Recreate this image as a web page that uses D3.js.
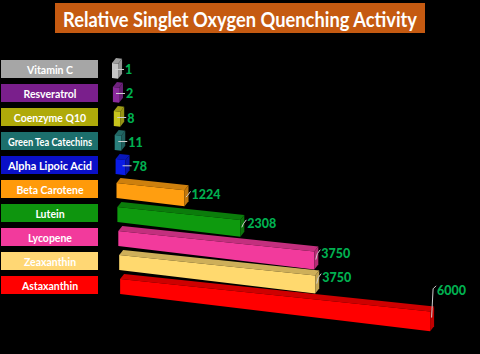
<!DOCTYPE html>
<html><head><meta charset="utf-8">
<script src="https://cdn.jsdelivr.net/npm/d3@7"></script>
<style>html,body{margin:0;padding:0;background:#000;}svg{display:block;}</style>
</head><body>
<svg id="c" width="480" height="354"></svg>
<script>
const categories = ["Vitamin C","Resveratrol","Coenzyme Q10","Green Tea Catechins","Alpha Lipoic Acid","Beta Carotene","Lutein","Lycopene","Zeaxanthin","Astaxanthin"];
const values = [1,2,8,11,78,1224,2308,3750,3750,6000];
const boxColors = ["#A6A6A6","#7A1F8C","#AFAA0A","#1C6F6C","#0A10C8","#FF9A0A","#0E950E","#F23A9C","#FFD774","#FF0000"];
const barColors = ["#C4C4C4","#8A2A9C","#C8C41C","#2A7F7C","#0A1CE6","#FF9E10","#0E9A0E","#F23A9C","#FFD96E","#FF0000"];
const title = "Relative Singlet Oxygen Quenching Activity";

const svg = d3.select("#c");
svg.append("rect").attr("width",480).attr("height",354).attr("fill","#000");

// title
svg.append("rect").attr("x",55).attr("y",3).attr("width",370).attr("height",30).attr("fill","#C55A11");
svg.append("text").attr("x",240).attr("y",19).attr("text-anchor","middle").attr("dominant-baseline","central")
  .attr("fill","#fff").attr("font-family","Lato, 'Open Sans', sans-serif").attr("font-weight","bold")
  .attr("font-size",20).attr("textLength",354).attr("lengthAdjust","spacingAndGlyphs").text(title);

const y = d3.scaleBand().domain(categories).range([60,294]).paddingInner(0.25).paddingOuter(0);
const xs = d3.scaleLinear().domain([0,6000]).range([6,310]);

// label boxes
const boxes = svg.append("g");
categories.forEach((c,i)=>{
  boxes.append("rect").attr("x",1).attr("y",y(c)).attr("width",97).attr("height",y.bandwidth()).attr("fill",boxColors[i]);
  boxes.append("text").attr("x",50).attr("y",y(c)+y.bandwidth()/2+0.5).attr("text-anchor","middle")
    .attr("dominant-baseline","central").attr("fill","#fff").attr("font-family","Lato, sans-serif")
    .attr("font-weight","bold").attr("font-size",10.5)
    .attr("textLength", c.length > 16 ? 84 : null).attr("lengthAdjust","spacingAndGlyphs").text(c);
});

// bars (pseudo 3D)
const a = 0.105, b = 0.12, dx = 4, dy = -5;
const g = svg.append("g");
categories.forEach((c,i)=>{
  const v = values[i];
  const x0 = 112 + 0.9*i;
  const top0 = y(c)+3, bot0 = y(c)+y.bandwidth();
  const len = xs(v);
  const xe = x0 + len;
  const tT = top0 + a*len, tB = bot0 + b*len;
  const col = d3.color(barColors[i]);
  const pts = p => p.map(q=>q.join(",")).join(" ");
  g.append("polygon").attr("points",pts([[x0,top0],[xe,tT],[xe+dx,tT+dy],[x0+dx,top0+dy]])).attr("fill",col.darker(0.6));
  g.append("polygon").attr("points",pts([[x0,top0],[xe,tT],[xe,tB],[x0,bot0]])).attr("fill",col);
  g.append("polygon").attr("points",pts([[xe,tT],[xe+dx,tT+dy],[xe+dx,tB+dy],[xe,tB]])).attr("fill",col.darker(0.8));

  // value label
  const lx = xe + dx + 3;
  let ly = tT + 6 - len*0.025;
  if (i === categories.length-1) ly -= 20;
  let path;
  if (len < 20) {
    path = `M${xe-3},${ly} H${lx-1}`;
  } else if (i === categories.length-1) {
    path = `M${xe+1.5},${tT+6} L${xe+3},${ly-1} L${lx-1},${ly-4}`;
  } else {
    path = `M${xe+1.5},${(tT+tB)/2-1} L${xe+3},${ly+1} L${lx-1},${ly-3}`;
  }
  g.append("path").attr("d",path).attr("fill","none").attr("stroke","#D0D0D0").attr("stroke-width",1);
  g.append("text").attr("x",lx).attr("y",ly+0.5).attr("dominant-baseline","central")
    .attr("fill","#00B050").attr("font-family","Lato, sans-serif").attr("font-weight","900")
    .attr("font-size",12.5).text(d3.format("d")(v));
});
</script>
</body></html>
